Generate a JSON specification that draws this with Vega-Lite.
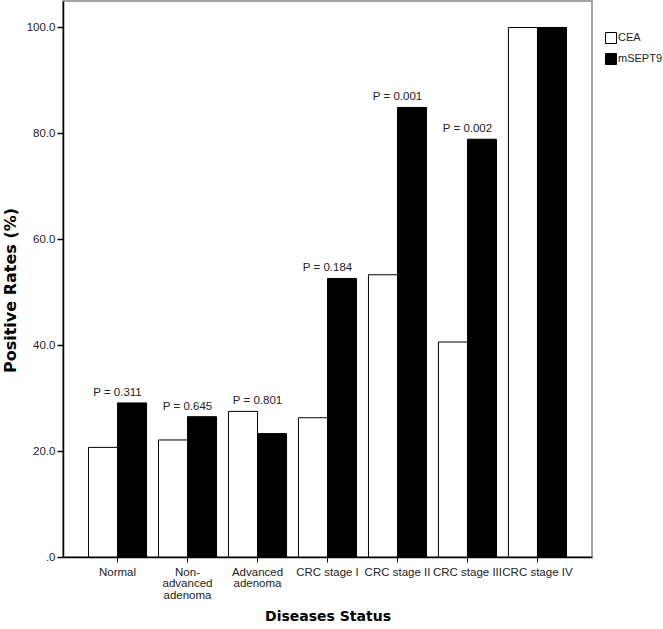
{
  "$schema": "https://vega.github.io/schema/vega-lite/v6.json",
  "width": 529,
  "height": 556,
  "autosize": {"type": "none"},
  "padding": {"left": 63, "top": 1, "right": 71, "bottom": 72},
  "background": "white",
  "config": {
    "font": "Liberation Sans",
    "view": {"stroke": "#888888", "strokeWidth": 1.5}
  },
  "datasets": {
    "bars": [
      {"status": "Normal", "marker": "CEA", "rate": 20.7},
      {"status": "Normal", "marker": "mSEPT9", "rate": 29.1},
      {"status": "Non-advanced adenoma", "marker": "CEA", "rate": 22.1},
      {"status": "Non-advanced adenoma", "marker": "mSEPT9", "rate": 26.5},
      {"status": "Advanced adenoma", "marker": "CEA", "rate": 27.5},
      {"status": "Advanced adenoma", "marker": "mSEPT9", "rate": 23.3},
      {"status": "CRC stage I", "marker": "CEA", "rate": 26.3},
      {"status": "CRC stage I", "marker": "mSEPT9", "rate": 52.6},
      {"status": "CRC stage II", "marker": "CEA", "rate": 53.3},
      {"status": "CRC stage II", "marker": "mSEPT9", "rate": 84.9},
      {"status": "CRC stage III", "marker": "CEA", "rate": 40.6},
      {"status": "CRC stage III", "marker": "mSEPT9", "rate": 78.9},
      {"status": "CRC stage IV", "marker": "CEA", "rate": 100.0},
      {"status": "CRC stage IV", "marker": "mSEPT9", "rate": 100.0}
    ],
    "pvals": [
      {"status": "Normal", "top": 29.1, "label": "P = 0.311"},
      {"status": "Non-advanced adenoma", "top": 26.5, "label": "P = 0.645"},
      {"status": "Advanced adenoma", "top": 27.5, "label": "P = 0.801"},
      {"status": "CRC stage I", "top": 52.6, "label": "P = 0.184"},
      {"status": "CRC stage II", "top": 84.9, "label": "P = 0.001"},
      {"status": "CRC stage III", "top": 78.9, "label": "P = 0.002"}
    ]
  },
  "layer": [
    {
      "data": {"name": "bars"},
      "mark": {"type": "bar", "stroke": "black", "strokeWidth": 1},
      "encoding": {
        "x": {
          "field": "status",
          "type": "nominal",
          "sort": null,
          "scale": {"paddingInner": 0.17, "paddingOuter": 0.364},
          "axis": {
            "title": "Diseases Status",
            "titleFont": "DejaVu Sans",
            "titleFontSize": 14,
            "titleFontWeight": "bold",
            "titleColor": "black",
            "titlePadding": 9,
            "labelAngle": 0,
            "labelFontSize": 11.5,
            "labelColor": "#222222",
            "labelPadding": 4,
            "labelLineHeight": 11.5,
            "tickSize": 5,
            "tickColor": "black",
            "domainColor": "black",
            "domainWidth": 1.5,
            "labelExpr": "datum.label == 'Non-advanced adenoma' ? ['Non-', 'advanced', 'adenoma'] : datum.label == 'Advanced adenoma' ? ['Advanced', 'adenoma'] : datum.label"
          }
        },
        "xOffset": {"field": "marker", "type": "nominal", "scale": {"paddingInner": 0, "paddingOuter": 0}},
        "y": {
          "field": "rate",
          "type": "quantitative",
          "scale": {"domain": [0, 105], "nice": false},
          "axis": {
            "title": "Positive Rates (%)",
            "titleFont": "DejaVu Sans",
            "titleFontSize": 16,
            "titleFontWeight": "bold",
            "titleColor": "black",
            "titleX": -45,
            "titleY": 289,
            "values": [0, 20, 40, 60, 80, 100],
            "labelExpr": "datum.value == 0 ? '.0' : format(datum.value, '.1f')",
            "labelFontSize": 11.5,
            "labelColor": "#222222",
            "labelPadding": 2,
            "tickSize": 6,
            "tickColor": "black",
            "tickWidth": 1.5,
            "domainColor": "black",
            "domainWidth": 1.5,
            "grid": false
          }
        },
        "fill": {
          "field": "marker",
          "type": "nominal",
          "scale": {"domain": ["CEA", "mSEPT9"], "range": ["white", "black"]},
          "legend": {
            "title": null,
            "orient": "none",
            "legendX": 542,
            "legendY": 31,
            "symbolType": "square",
            "symbolSize": 121,
            "symbolStrokeColor": "black",
            "symbolStrokeWidth": 1,
            "labelFontSize": 11,
            "labelColor": "#222222",
            "labelOffset": 1,
            "rowPadding": 5
          }
        }
      }
    },
    {
      "data": {"name": "pvals"},
      "mark": {"type": "text", "baseline": "bottom", "dy": -5, "fontSize": 11.5, "color": "#222222"},
      "encoding": {
        "x": {"field": "status", "type": "nominal", "sort": null},
        "y": {"field": "top", "type": "quantitative"},
        "text": {"field": "label"}
      }
    }
  ]
}
